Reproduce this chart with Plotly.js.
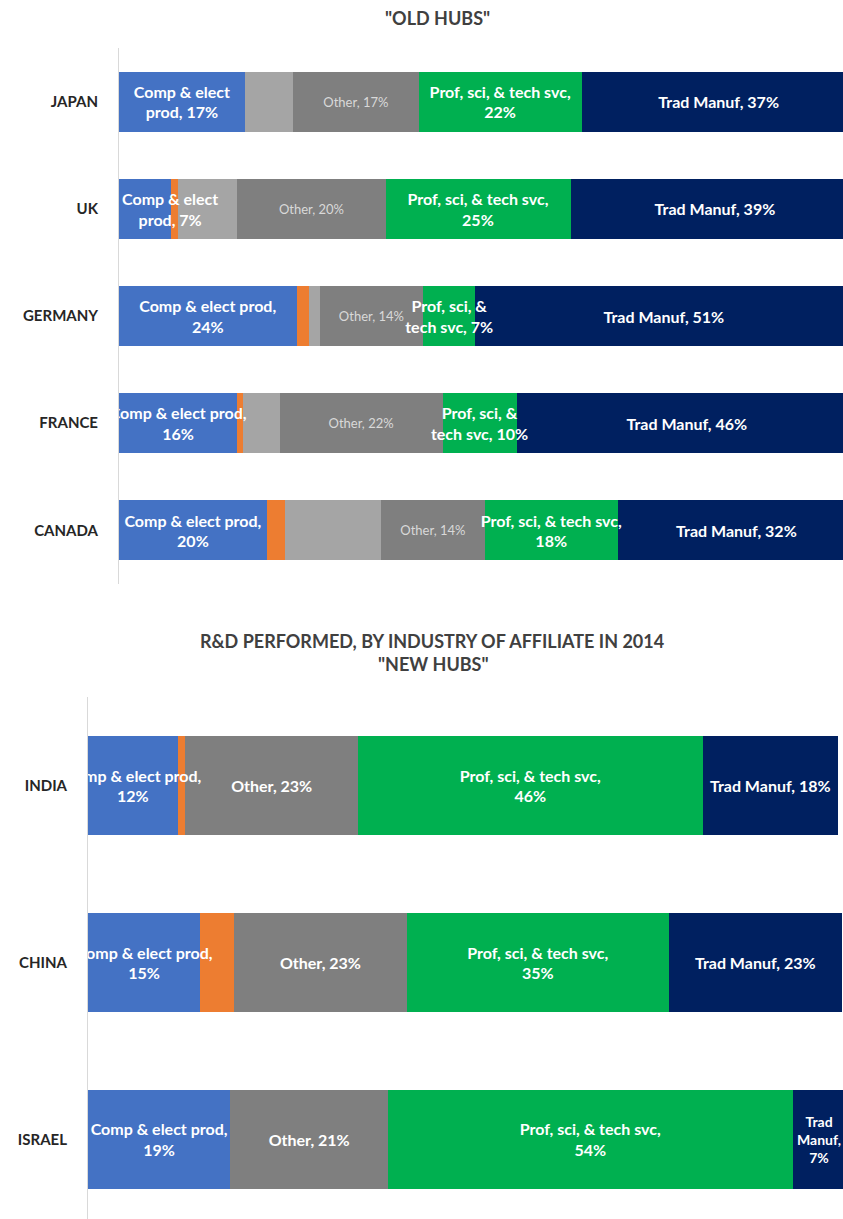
<!DOCTYPE html>
<html>
<head>
<meta charset="utf-8">
<script src="https://cdn.plot.ly/plotly-3.0.1.min.js"></script>
<style>
  html, body { margin: 0; padding: 0; background: #ffffff; }
  #chart { width: 843px; height: 1219px; }
</style>
</head>
<body>
<div id="chart"></div>
<script>
// Share of affiliate R&D performed, by industry (percent)
const oldHubs = ["JAPAN", "UK", "GERMANY", "FRANCE", "CANADA"];
const newHubs = ["INDIA", "CHINA", "ISRAEL"];

const compOld   = [17, 7, 24, 16, 20];
const minorAOld = [0, 1, 1.6, 0.8, 2.4];
const minorBOld = [6.5, 8, 1.5, 4.9, 13];
const otherOld  = [17, 20, 14, 22, 14];
const profOld   = [22, 25, 7, 10, 18];
const tradOld   = [37, 39, 51, 46, 32];

const compNew   = [12, 15, 19];
const minorANew = [1, 4.5, 0];
const minorBNew = [0, 0, 0];
const otherNew  = [23, 23, 21];
const profNew   = [46, 35, 54];
const tradNew   = [18, 23, 7];

// Label layouts; "%v" is replaced by the value, "~" by a non-breaking lead-in
const compOldFmt  = ["Comp & elect<br>prod, %v%", "~Comp & elect<br>~prod, %v%", "Comp & elect prod,<br>%v%", "Comp & elect prod,<br>%v%", "Comp & elect prod,<br>%v%"];
const otherOldFmt = ["Other, %v%", "Other, %v%", "Other, %v%", "Other, %v%", "Other, %v%"];
const profOldFmt  = ["Prof, sci, & tech svc,<br>%v%", "Prof, sci, & tech svc,<br>%v%", "Prof, sci, &<br>tech svc, %v%", "Prof, sci, &<br>tech svc, %v%", "Prof, sci, & tech svc,<br>%v%"];
const tradOldFmt  = ["Trad Manuf, %v%", "Trad Manuf, %v%", "Trad Manuf, %v%", "Trad Manuf, %v%", "Trad Manuf, %v%"];

const compNewFmt  = ["Comp & elect prod,<br>%v%", "Comp & elect prod,<br>%v%", "Comp & elect prod,<br>%v%"];
const otherNewFmt = ["Other, %v%", "Other, %v%", "Other, %v%"];
const profNewFmt  = ["Prof, sci, & tech svc,<br>%v%", "Prof, sci, & tech svc,<br>%v%", "Prof, sci, & tech svc,<br>%v%"];
const tradNewFmt  = ["Trad Manuf, %v%", "Trad Manuf, %v%", "Trad<br>Manuf,<br>%v%"];

const PAD = "\u00a0".repeat(13);
function labels(fmt, vals) {
  return vals.map((v, i) => fmt[i].replace("%v", String(v)).split("~").join(PAD));
}

const colors = {
  comp:   "#4472C4",
  minorA: "#ED7D31",
  minorB: "#A5A5A5",
  other:  "#7F7F7F",
  prof:   "#00B050",
  trad:   "#002060"
};

const FONT = "Lato, 'Open Sans', sans-serif";
const boldWhite = { family: FONT, size: 16, color: "#ffffff", weight: "bold" };
const softOther = { family: FONT, size: 13, color: "#D9D9D9", weight: "normal" };
// the narrow last segment of the third row uses a slightly smaller label
const tradNewFont = { family: FONT, size: [16, 16, 14], color: "#ffffff", weight: "bold" };

// Coloured segments (no text)
function seg(name, x, y, color, xa, ya) {
  return {
    type: "bar", orientation: "h", name: name,
    x: x, y: y, xaxis: xa, yaxis: ya,
    marker: { color: color, line: { width: 0 } },
    textposition: "none",
    hoverinfo: "x+y+name",
    showlegend: false
  };
}

// Same stacked segments on an overlaid axis pair, transparent, carrying the
// data labels so that a label may run across neighbouring segments
function lab(name, x, y, text, font, xa, ya) {
  return {
    type: "bar", orientation: "h", name: name,
    x: x, y: y, xaxis: xa, yaxis: ya,
    marker: { color: "rgba(0,0,0,0)", line: { width: 0 } },
    text: text || null,
    textposition: text ? "inside" : "none",
    insidetextanchor: "middle",
    textangle: 0,
    constraintext: "none",
    cliponaxis: true,
    textfont: font || boldWhite,
    hoverinfo: "skip",
    showlegend: false
  };
}

const traces = [
  seg("Comp & elect prod", compOld, oldHubs, colors.comp, "x", "y"),
  seg("Minor industry A", minorAOld, oldHubs, colors.minorA, "x", "y"),
  seg("Minor industry B", minorBOld, oldHubs, colors.minorB, "x", "y"),
  seg("Other", otherOld, oldHubs, colors.other, "x", "y"),
  seg("Prof, sci, & tech svc", profOld, oldHubs, colors.prof, "x", "y"),
  seg("Trad Manuf", tradOld, oldHubs, colors.trad, "x", "y"),

  seg("Comp & elect prod", compNew, newHubs, colors.comp, "x2", "y2"),
  seg("Minor industry A", minorANew, newHubs, colors.minorA, "x2", "y2"),
  seg("Minor industry B", minorBNew, newHubs, colors.minorB, "x2", "y2"),
  seg("Other", otherNew, newHubs, colors.other, "x2", "y2"),
  seg("Prof, sci, & tech svc", profNew, newHubs, colors.prof, "x2", "y2"),
  seg("Trad Manuf", tradNew, newHubs, colors.trad, "x2", "y2"),

  lab("Comp & elect prod", compOld, oldHubs, labels(compOldFmt, compOld), boldWhite, "x3", "y3"),
  lab("Minor industry A", minorAOld, oldHubs, null, null, "x3", "y3"),
  lab("Minor industry B", minorBOld, oldHubs, null, null, "x3", "y3"),
  lab("Other", otherOld, oldHubs, labels(otherOldFmt, otherOld), softOther, "x3", "y3"),
  lab("Prof, sci, & tech svc", profOld, oldHubs, labels(profOldFmt, profOld), boldWhite, "x3", "y3"),
  lab("Trad Manuf", tradOld, oldHubs, labels(tradOldFmt, tradOld), boldWhite, "x3", "y3"),

  lab("Comp & elect prod", compNew, newHubs, labels(compNewFmt, compNew), boldWhite, "x4", "y4"),
  lab("Minor industry A", minorANew, newHubs, null, null, "x4", "y4"),
  lab("Minor industry B", minorBNew, newHubs, null, null, "x4", "y4"),
  lab("Other", otherNew, newHubs, labels(otherNewFmt, otherNew), boldWhite, "x4", "y4"),
  lab("Prof, sci, & tech svc", profNew, newHubs, labels(profNewFmt, profNew), boldWhite, "x4", "y4"),
  lab("Trad Manuf", tradNew, newHubs, labels(tradNewFmt, tradNew), tradNewFont, "x4", "y4")
];

const H = 1219, W = 843;
const catFont = { family: FONT, size: 15, color: "#262626", weight: "bold" };

const TOP_X = { domain: [119 / W, 1], range: [0, 97.8] };
const TOP_Y = { domain: [1 - 584 / H, 1 - 48 / H], categoryorder: "array", categoryarray: oldHubs, range: [4.5, -0.5] };
const BOT_X = { domain: [88 / W, 1], range: [0, 100.7] };
const BOT_Y = { domain: [0, 1 - 697 / H], categoryorder: "array", categoryarray: newHubs, range: [2.45, -0.5] };

const hiddenX = {
  showgrid: false, zeroline: false, showticklabels: false, showline: false, ticks: "", fixedrange: true
};
const catY = {
  type: "category",
  showgrid: false, zeroline: false,
  showline: true, linecolor: "#D9D9D9", linewidth: 1,
  ticks: "", ticklabelstandoff: 17,
  tickfont: catFont, fixedrange: true
};
const hiddenY = {
  type: "category",
  showgrid: false, zeroline: false, showline: false, showticklabels: false, ticks: "", fixedrange: true
};

const titleFont = { family: FONT, size: 18, color: "#404040", weight: "bold" };

const layout = {
  width: W,
  height: H,
  margin: { l: 0, r: 0, t: 0, b: 0 },
  paper_bgcolor: "#ffffff",
  plot_bgcolor: "rgba(0,0,0,0)",
  barmode: "stack",
  bargap: 0.44,
  font: { family: FONT, color: "#404040" },

  xaxis:  Object.assign({}, hiddenX, TOP_X, { anchor: "y" }),
  yaxis:  Object.assign({}, catY, TOP_Y, { anchor: "x" }),
  xaxis2: Object.assign({}, hiddenX, BOT_X, { anchor: "y2" }),
  yaxis2: Object.assign({}, catY, BOT_Y, { anchor: "x2" }),

  xaxis3: Object.assign({}, hiddenX, TOP_X, { anchor: "y3", overlaying: "x" }),
  yaxis3: Object.assign({}, hiddenY, TOP_Y, { anchor: "x3", overlaying: "y" }),
  xaxis4: Object.assign({}, hiddenX, BOT_X, { anchor: "y4", overlaying: "x2" }),
  yaxis4: Object.assign({}, hiddenY, BOT_Y, { anchor: "x4", overlaying: "y2" }),

  annotations: [
    {
      text: "\"OLD HUBS\"", xref: "paper", yref: "paper",
      x: 437 / W, y: 1 - 18 / H, xanchor: "center", yanchor: "middle",
      showarrow: false, font: titleFont
    },
    {
      text: "R&D PERFORMED, BY INDUSTRY OF AFFILIATE IN 2014", xref: "paper", yref: "paper",
      x: 432 / W, y: 1 - 641 / H, xanchor: "center", yanchor: "middle",
      showarrow: false, font: titleFont
    },
    {
      text: "\"NEW HUBS\"", xref: "paper", yref: "paper",
      x: 433 / W, y: 1 - 664 / H, xanchor: "center", yanchor: "middle",
      showarrow: false, font: titleFont
    }
  ]
};

Plotly.newPlot("chart", traces, layout, { displayModeBar: false, staticPlot: true });
</script>
</body>
</html>
